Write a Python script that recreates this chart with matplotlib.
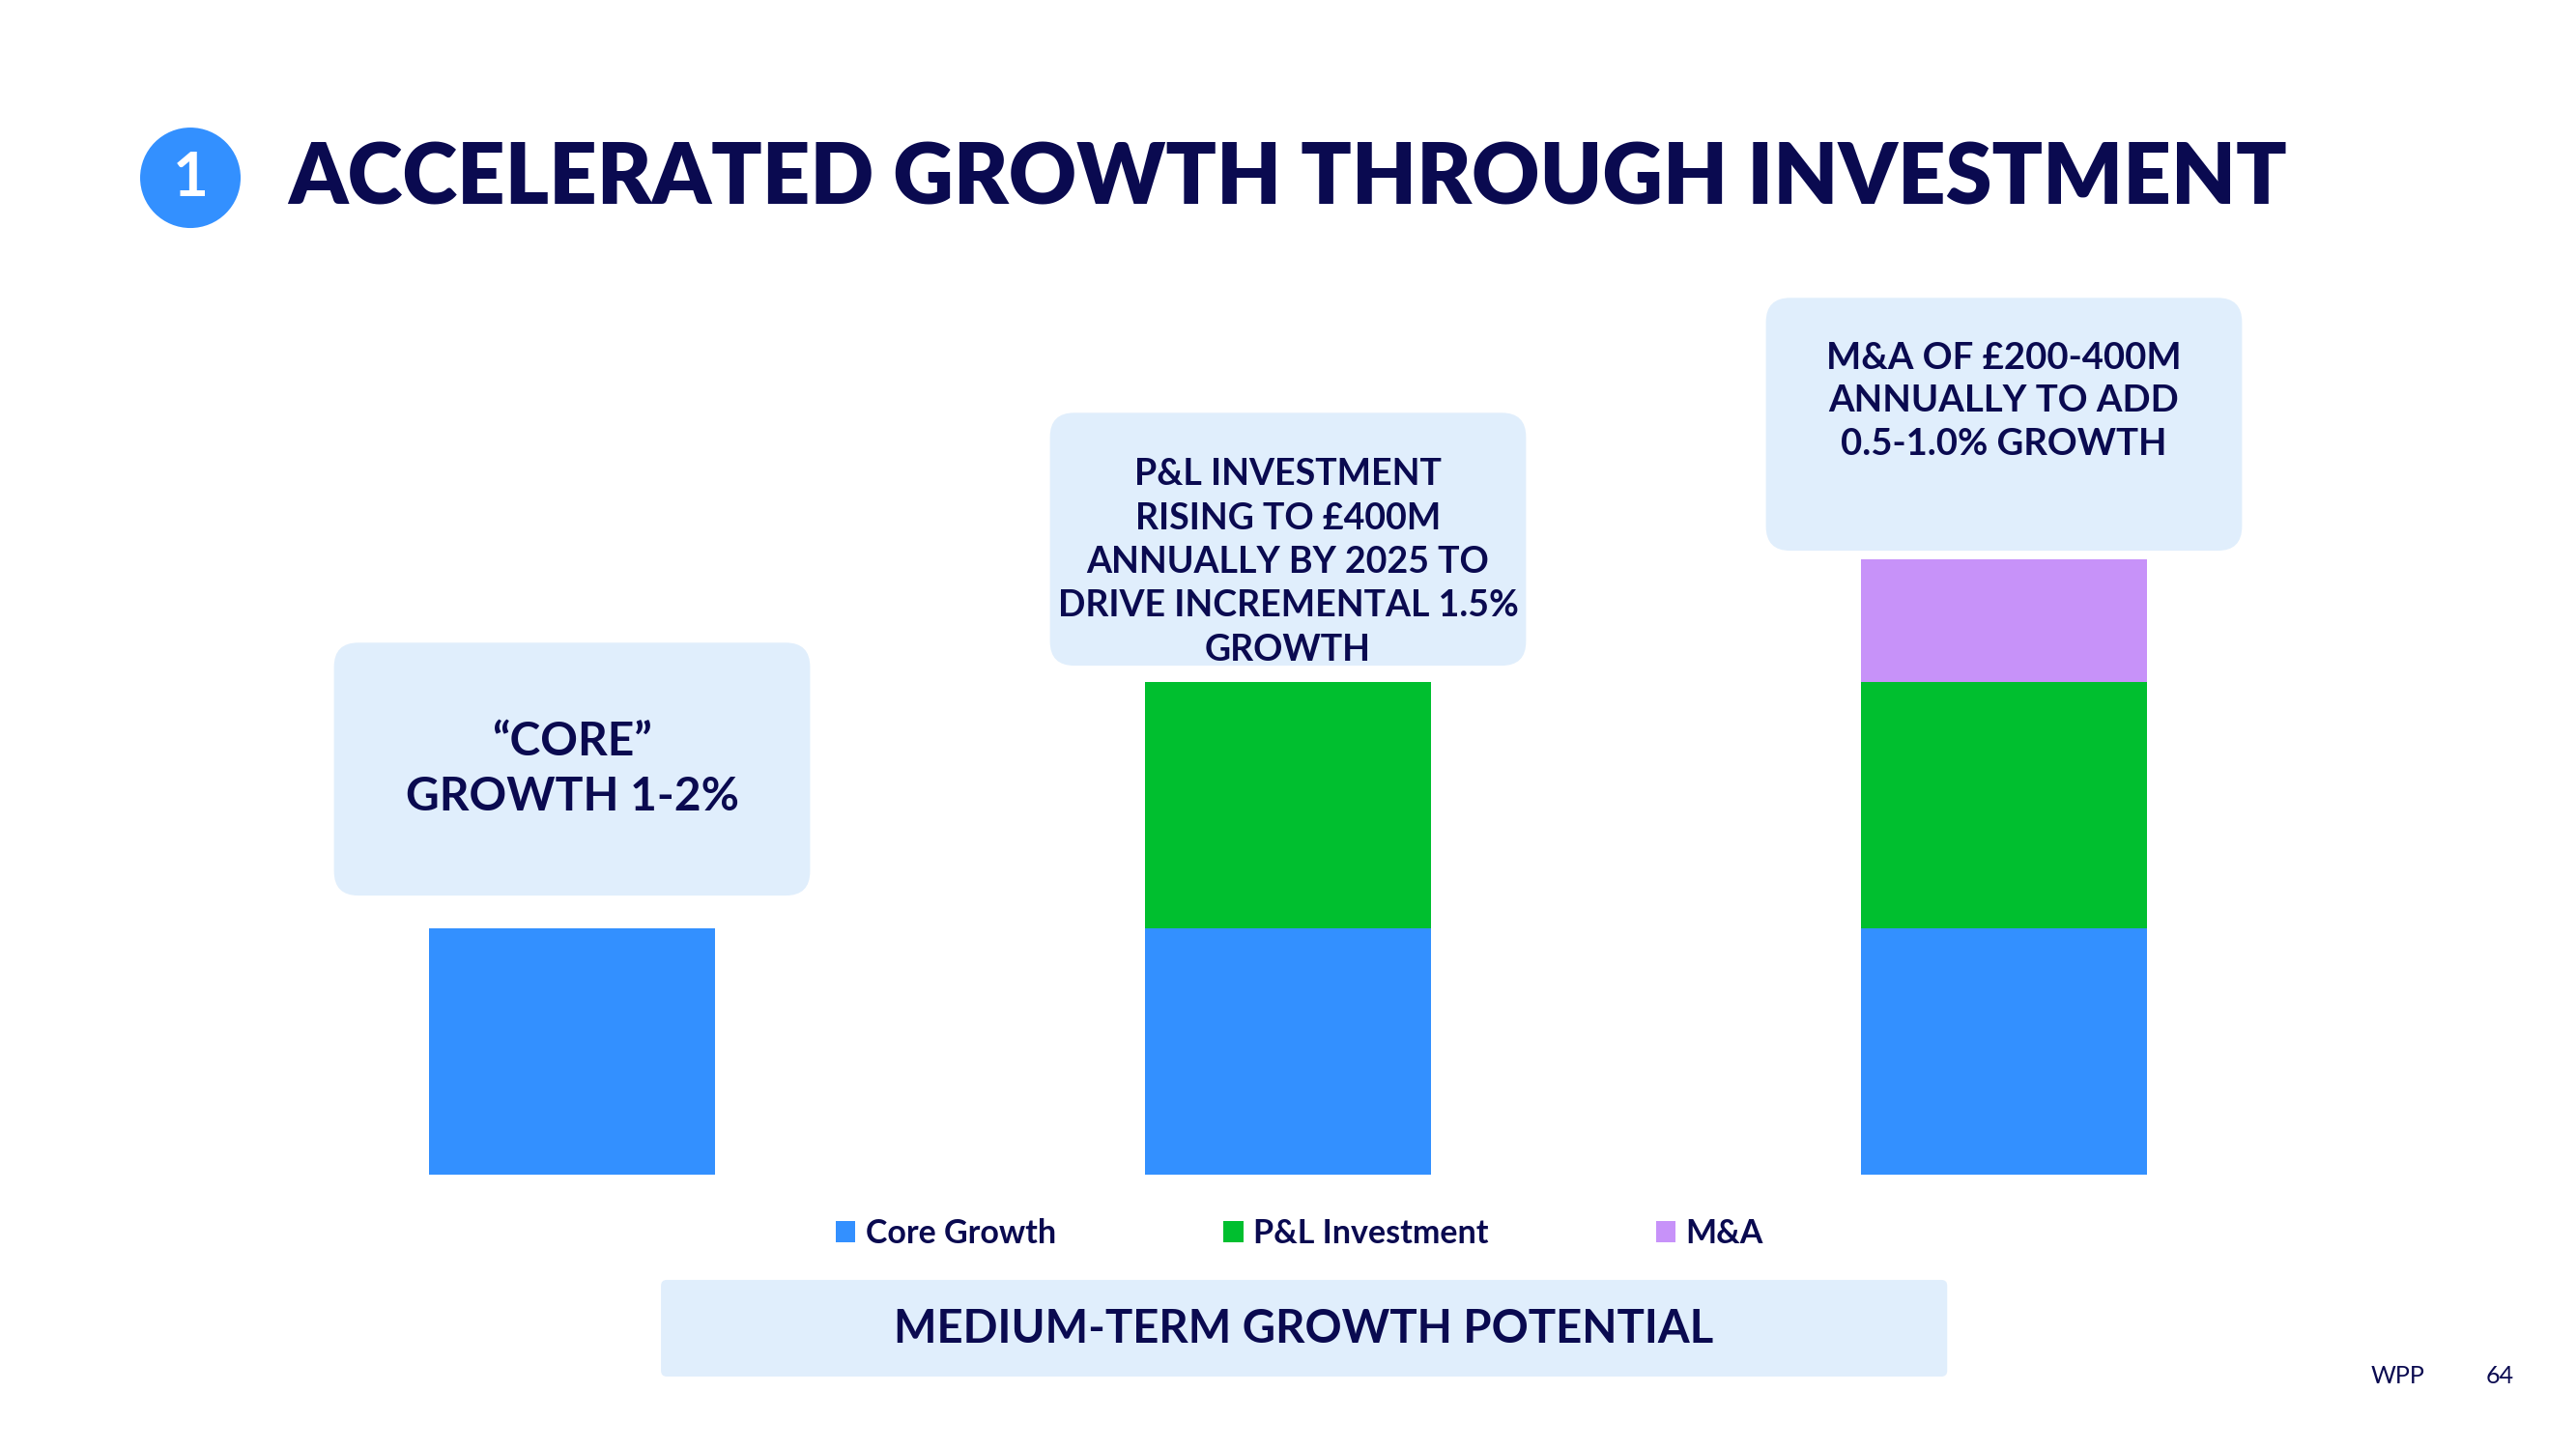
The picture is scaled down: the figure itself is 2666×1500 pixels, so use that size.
import matplotlib
matplotlib.use("Agg")
import matplotlib.pyplot as plt
from matplotlib.patches import FancyBboxPatch, Ellipse
import numpy as np

plt.rcParams['font.family'] = ['Lato', 'DejaVu Sans']

navy = '#0A0A50'
box_fill = '#E0EEFC'

# chart data (growth contribution, % points)
stages = ['Core', 'Core + P&L', 'Core + P&L + M&A']
core_growth = [1.5, 1.5, 1.5]
pl_investment = [0.0, 1.5, 1.5]
m_and_a = [0.0, 0.0, 0.75]
series_names = ['Core Growth', 'P&L Investment', 'M&A']
series_colors = ['#3390FF', '#00BF2F', '#C792F9']

callouts = ['\u201cCORE\u201d\nGROWTH 1-2%',
            'P&L INVESTMENT\nRISING TO \u00a3400M\nANNUALLY BY 2025 TO\nDRIVE INCREMENTAL 1.5%\nGROWTH',
            'M&A OF \u00a3200-400M\nANNUALLY TO ADD\n0.5-1.0% GROWTH']
callout_size = [34.5, 27, 27.5]
callout_spacing = [1.36, 1.41, 1.38]
callout_bottom = [1.70, 3.10, 3.80]   # box bottoms, in chart units
callout_text_y = [2.47, 3.73, 4.71]

fig = plt.figure(figsize=(26.66, 15), dpi=100)
ax = fig.add_axes([0.0553, 0.1893, 0.8894, 0.6233])

x = np.arange(len(stages))
w = 0.4
stack = np.zeros(len(stages))
for vals, name, col in zip([core_growth, pl_investment, m_and_a], series_names, series_colors):
    ax.bar(x, vals, w, bottom=stack, color=col, label=name)
    stack += np.array(vals)

ax.set_xlim(-0.6, 2.6)
ax.set_ylim(0, 5.5)
ax.axis('off')

# call-out boxes above bars
bw, bh = 0.665, 1.54
for i in range(len(stages)):
    p = FancyBboxPatch((x[i] - bw / 2, callout_bottom[i]), bw, bh,
                       boxstyle='round,pad=0,rounding_size=0.034',
                       mutation_aspect=4.36, fc=box_fill, ec='none',
                       clip_on=False, zorder=0)
    ax.add_patch(p)
    ax.text(x[i], callout_text_y[i], callouts[i], ha='center', va='center',
            fontsize=callout_size[i], fontweight='bold', color=navy,
            linespacing=callout_spacing[i], zorder=3, clip_on=False)

# title
fig.add_artist(Ellipse((0.0739, 0.8773), 104 / 2666, 104 / 1500,
                       transform=fig.transFigure, fc='#3390FF', ec='none'))
fig.text(0.0739, 0.8773, '1', ha='center', va='center', color='white',
         fontsize=46, fontweight='bold')
fig.text(0.1118, 0.8760, 'ACCELERATED GROWTH THROUGH INVESTMENT', ha='left',
         va='center', color=navy, fontsize=62.3, fontweight='heavy')

# legend
h, l = ax.get_legend_handles_labels()
fig.legend(h, l, loc='center', bbox_to_anchor=(0.5045, 0.1487), ncol=3,
           frameon=False, columnspacing=5.1, handlelength=0.6,
           handleheight=0.65, handletextpad=0.3, labelcolor=navy,
           prop={'weight': 'bold', 'size': 24.5})

# bottom banner
fig.add_artist(FancyBboxPatch((0.2566, 0.05), 0.4993, 0.0667,
                              boxstyle='round,pad=0,rounding_size=0.00225',
                              mutation_aspect=2666 / 1500, fc=box_fill, ec='none',
                              transform=fig.transFigure))
fig.text(0.506, 0.0827, 'MEDIUM-TERM GROWTH POTENTIAL', ha='center', va='center',
         fontsize=34, fontweight='bold', color=navy)

# footer
fig.text(0.9205, 0.05, 'WPP', ha='left', va='center', fontsize=18, color=navy)
fig.text(0.9651, 0.05, '64', ha='left', va='center', fontsize=18, color=navy)

fig.savefig('out.png', dpi=100, facecolor='white')
